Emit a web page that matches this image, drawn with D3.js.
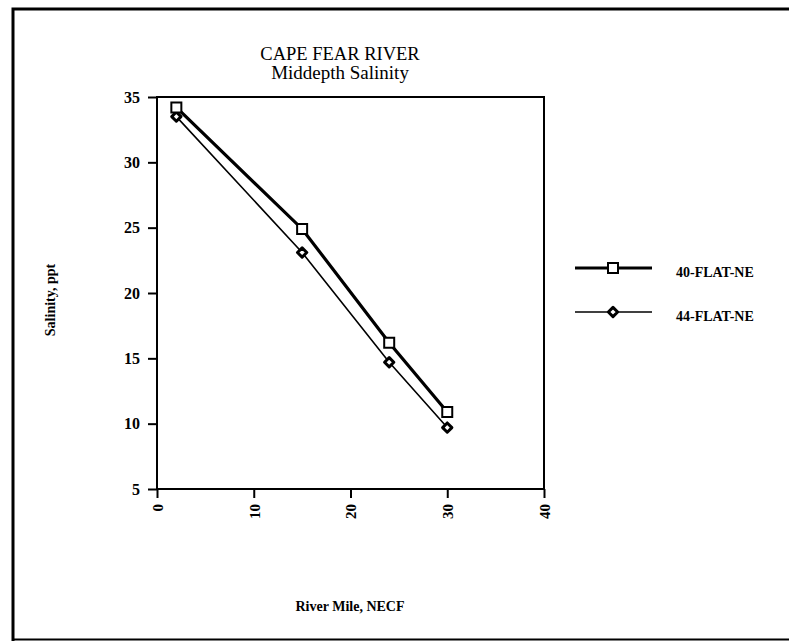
<!DOCTYPE html>
<html><head><meta charset="utf-8">
<script src="https://cdn.jsdelivr.net/npm/d3@7"></script>
<style>body{margin:0;background:#fff}svg{display:block}text{font-family:"Liberation Serif","Times New Roman",serif;fill:#000}</style>
</head><body>
<svg id="c" width="789" height="641"></svg>
<script>
const riverMile = [2, 15, 24, 30];
const series40 = [34.2, 24.9, 16.2, 10.9];
const series44 = [33.5, 23.1, 14.7, 9.7];
const seriesNames = ["40-FLAT-NE", "44-FLAT-NE"];
const xTicks = [0, 10, 20, 30, 40];
const yTicks = [5, 10, 15, 20, 25, 30, 35];

const svg = d3.select("#c");
const m = {l:157, r:544, t:97, b:489};
const x = d3.scaleLinear().domain([0,40]).range([m.l, m.r]);
const y = d3.scaleLinear().domain([5,35]).range([m.b, m.t]);

// outer border
svg.append("path").attr("d","M13,641 L13,9 L789,9").attr("fill","none").attr("stroke","#000").attr("stroke-width",3);
svg.append("line").attr("x1",12).attr("x2",789).attr("y1",639.5).attr("y2",639.5).attr("stroke","#000").attr("stroke-width",2);

// titles
svg.append("text").attr("x",340).attr("y",60).attr("text-anchor","middle").attr("font-size",18.5).text("CAPE FEAR RIVER");
svg.append("text").attr("x",340).attr("y",79).attr("text-anchor","middle").attr("font-size",19).text("Middepth Salinity");

// frame
svg.append("rect").attr("x",m.l).attr("y",m.t).attr("width",m.r-m.l).attr("height",m.b-m.t)
  .attr("fill","none").attr("stroke","#000").attr("stroke-width",2);

// axes
const ya = svg.append("g").attr("transform",`translate(${m.l},0)`)
  .call(d3.axisLeft(y).tickValues(yTicks).tickSize(9).tickPadding(8));
ya.select(".domain").remove();
ya.selectAll("line").attr("stroke-width",2);
ya.selectAll("text").attr("font-size",16).attr("font-weight","bold").attr("font-family","Liberation Serif");

const xa = svg.append("g").attr("transform",`translate(0,${m.b})`)
  .call(d3.axisBottom(x).tickValues(xTicks).tickSize(9));
xa.select(".domain").remove();
xa.selectAll("line").attr("stroke-width",2);
xa.selectAll("text").attr("font-size",15).attr("font-weight","bold").attr("font-family","Liberation Serif")
  .attr("transform","rotate(-90)").attr("text-anchor","end").attr("dy","0.35em")
  .attr("x",-15).attr("y",0);

// axis labels
svg.append("text").attr("transform","translate(55,300) rotate(-90)").attr("text-anchor","middle")
  .attr("font-size",14).attr("font-weight","bold").text("Salinity, ppt");
svg.append("text").attr("x",350).attr("y",611).attr("text-anchor","middle")
  .attr("font-size",14).attr("font-weight","bold").text("River Mile, NECF");

// lines
const line = d3.line().x(d=>x(d[0])).y(d=>y(d[1]));
const d40 = riverMile.map((v,i)=>[v,series40[i]]);
const d44 = riverMile.map((v,i)=>[v,series44[i]]);
svg.append("path").datum(d44).attr("d",line).attr("fill","none").attr("stroke","#000").attr("stroke-width",1.6);
svg.append("path").datum(d40).attr("d",line).attr("fill","none").attr("stroke","#000").attr("stroke-width",3.2);

const sq = d3.symbol().type(d3.symbolSquare).size(100);
const di = d3.symbol().type(d3.symbolDiamond2).size(55);
svg.selectAll(".m44").data(d44).join("path").attr("transform",d=>`translate(${x(d[0])},${y(d[1])})`)
  .attr("d",di).attr("fill","#fff").attr("stroke","#000").attr("stroke-width",3).attr("stroke-linejoin","round");
svg.selectAll(".m40").data(d40).join("path").attr("transform",d=>`translate(${x(d[0])},${y(d[1])})`)
  .attr("d",sq).attr("fill","#fff").attr("stroke","#000").attr("stroke-width",2);

// legend
const lg = [{y:268, w:3.2, sym:sq, sw:2, sj:"miter"},{y:312, w:1.6, sym:di, sw:3, sj:"round"}];
lg.forEach((l,i)=>{
  svg.append("line").attr("x1",575).attr("x2",652).attr("y1",l.y).attr("y2",l.y).attr("stroke","#000").attr("stroke-width",l.w);
  svg.append("path").attr("transform",`translate(613,${l.y})`).attr("d",l.sym).attr("fill","#fff").attr("stroke","#000").attr("stroke-width",l.sw).attr("stroke-linejoin",l.sj);
  svg.append("text").attr("x",676).attr("y",l.y+9).attr("font-size",14).attr("font-weight","bold").text(seriesNames[i]);
});
</script>
</body></html>
